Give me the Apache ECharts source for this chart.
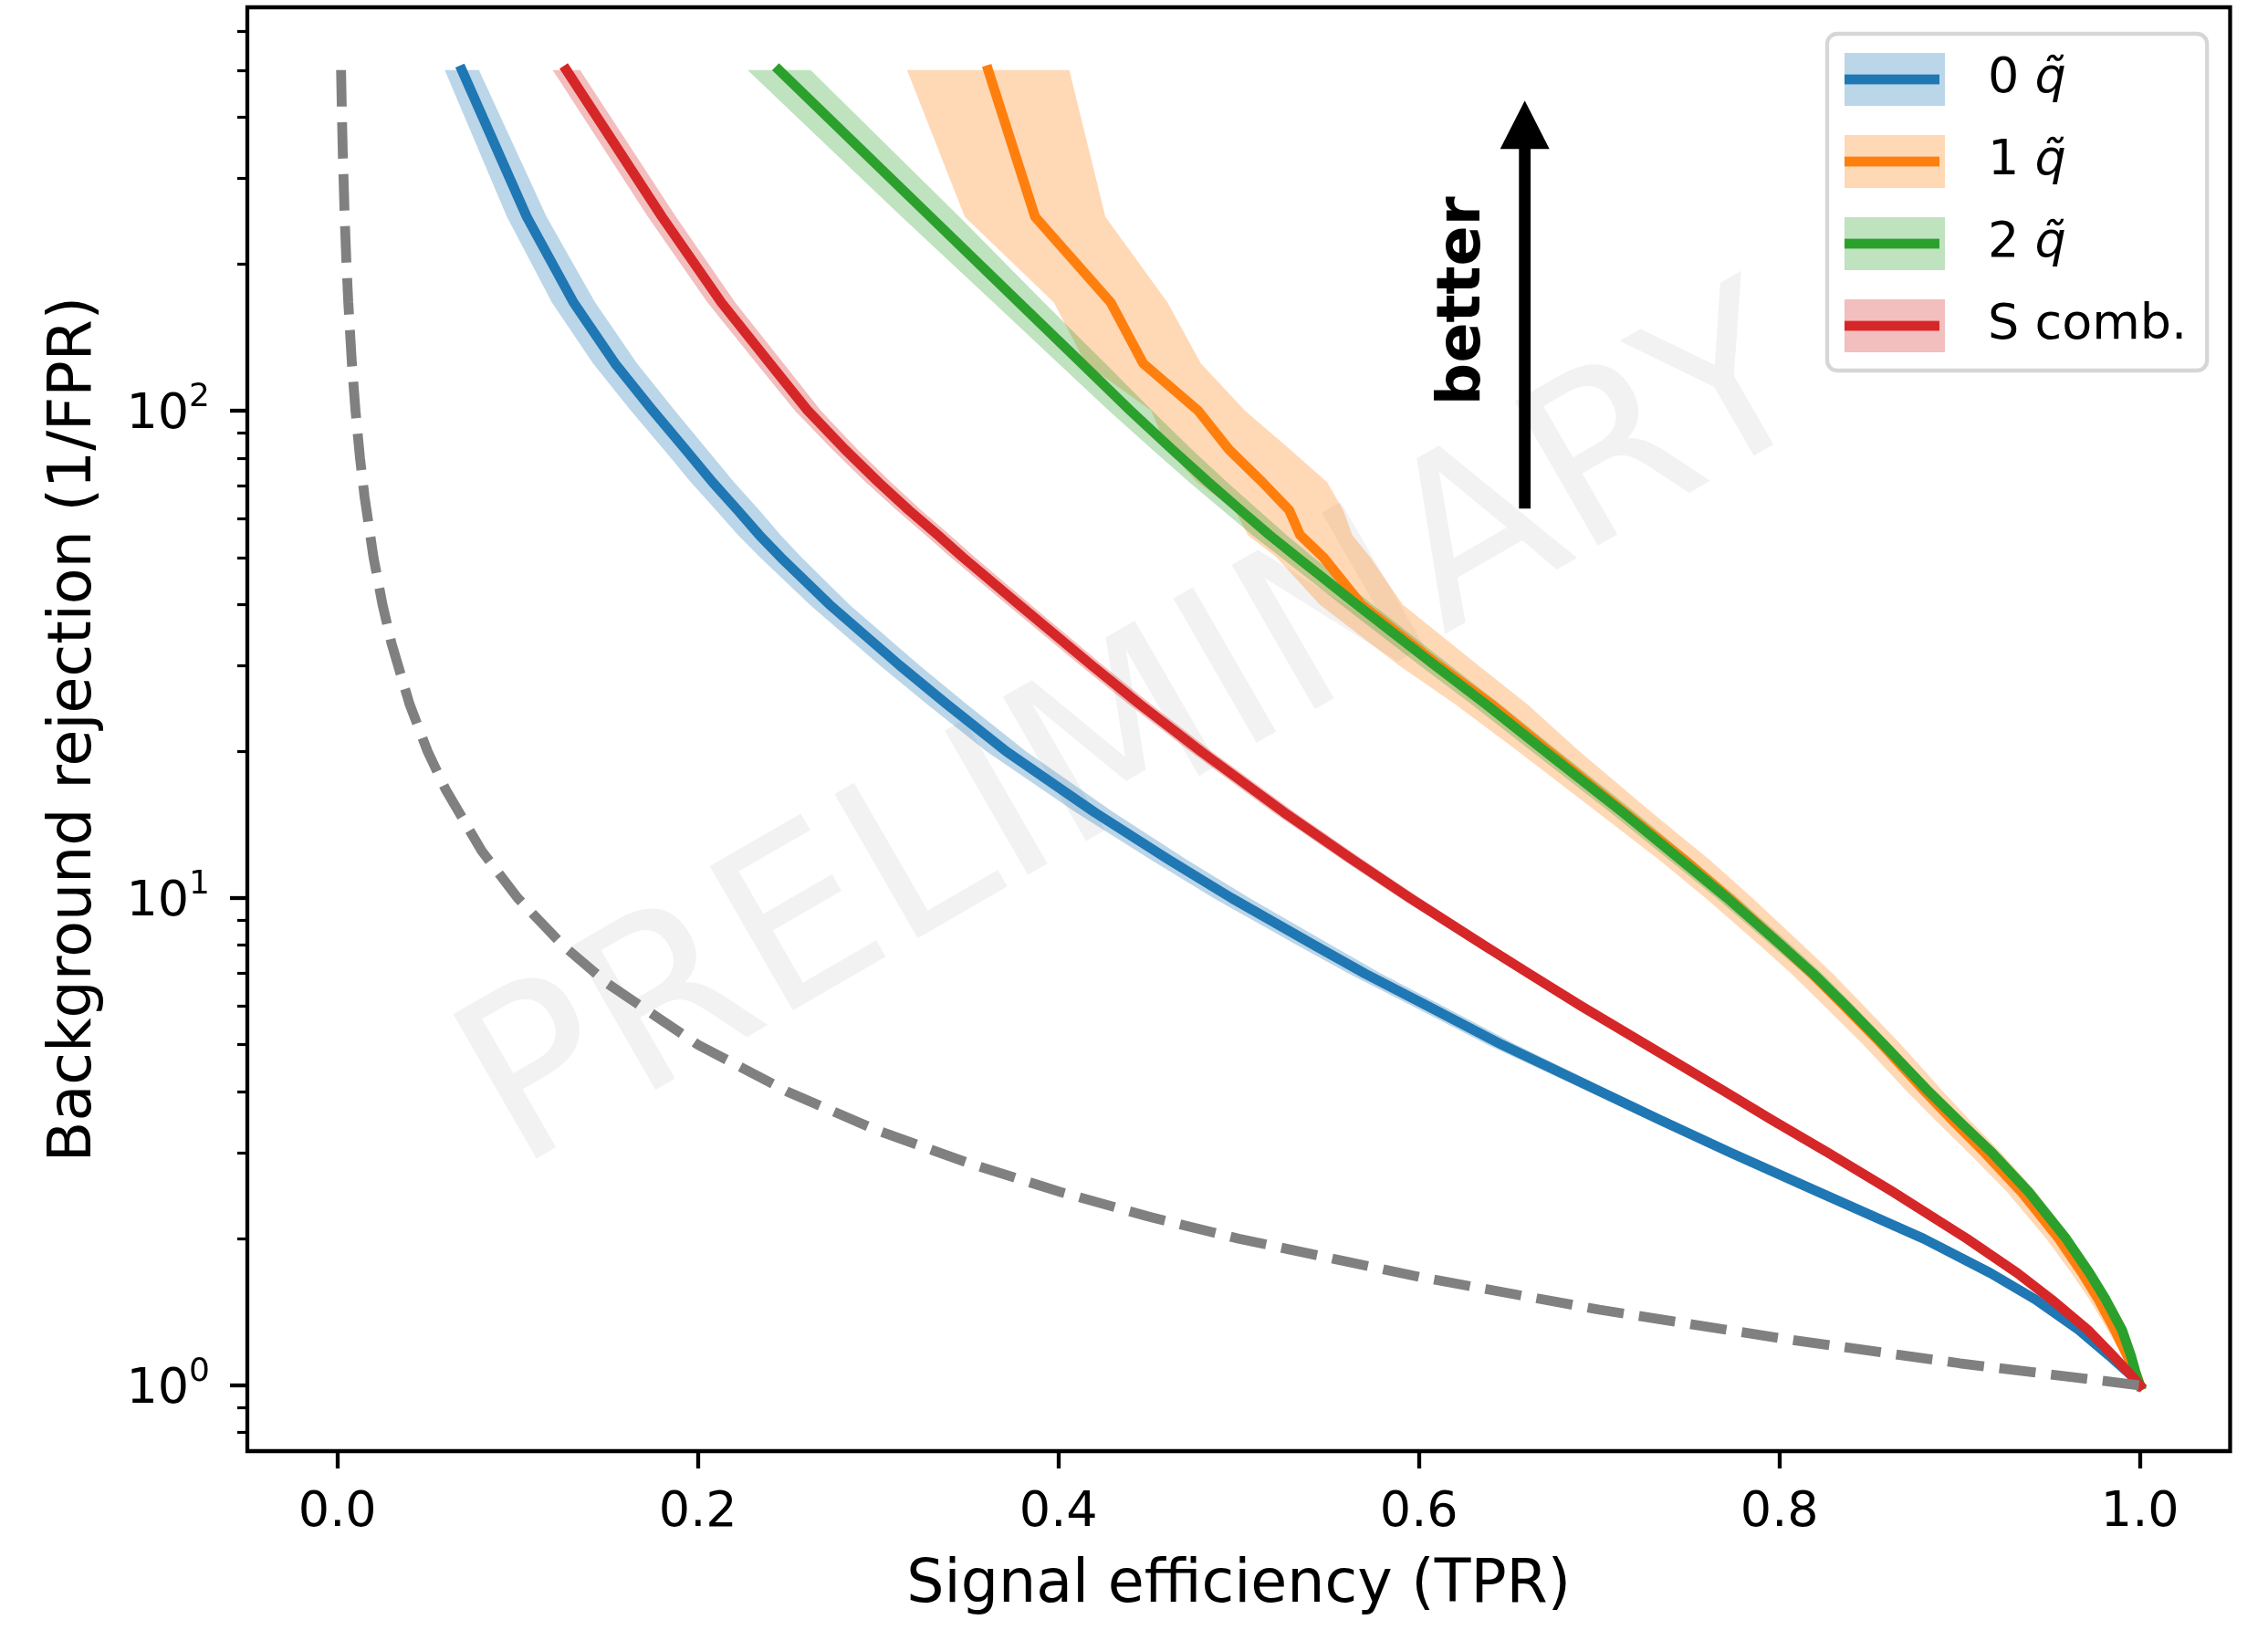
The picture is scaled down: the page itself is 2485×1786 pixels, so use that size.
<!DOCTYPE html>
<html><head><meta charset="utf-8">
<script src="https://cdn.jsdelivr.net/npm/echarts@6/dist/echarts.min.js"></script>
<style>html,body{margin:0;padding:0;background:#fff}#c{width:2485px;height:1786px}</style>
</head><body><div id="c"></div>
<script>
// ---- data ----
const rejection = [500, 250, 166.7, 125, 100, 83.3, 71.4, 62.5, 55.6, 50, 40, 30, 25, 20, 15, 12, 10, 8, 7, 6, 5, 4, 3.5, 3, 2.5, 2, 1.7, 1.5, 1.3, 1.15, 1.05, 1];
const tpr0q = [0.069,0.105,0.131,0.154,0.175,0.193,0.208,0.222,0.234,0.246,0.273,0.312,0.338,0.371,0.420,0.461,0.496,0.542,0.570,0.605,0.646,0.701,0.734,0.773,0.821,0.880,0.917,0.942,0.966,0.983,0.995,1.0];
const tpr1q = [0.361,0.387,0.429,0.447,0.4775,0.4945,0.513,0.528,0.534,0.547,0.568,0.611,0.640,0.672,0.714,0.747,0.772,0.801,0.818,0.836,0.857,0.881,0.896,0.914,0.934,0.955,0.968,0.977,0.986,0.993,0.998,1.0];
const tpr2q = [0.245,0.329,0.378,0.413,0.440,0.463,0.483,0.501,0.517,0.5325,0.5655,0.609,0.637,0.670,0.713,0.745,0.771,0.801,0.8186,0.837,0.858,0.883,0.899,0.918,0.938,0.959,0.972,0.981,0.990,0.995,0.998,1.0];
const tprS  = [0.127,0.180,0.213,0.240,0.261,0.2815,0.300,0.317,0.333,0.347,0.378,0.4185,0.445,0.479,0.525,0.563,0.595,0.636,0.661,0.690,0.726,0.770,0.796,0.827,0.8625,0.904,0.932,0.951,0.971,0.985,0.995,1.0];
// band half-widths (in TPR)
const err0q = [0.0095,0.011,0.012,0.0122,0.0122,0.012,0.012,0.012,0.0118,0.0115,0.011,0.011,0.011,0.011,0.0105,0.01,0.01,0.0095,0.009,0.0085,0.008,0.0065,0.006,0.005,0.004,0.003,0.0025,0.002,0.0015,0.001,0.0005,0];
const err1q = [0.045,0.039,0.0315,0.032,0.026,0.034,0.036,0.03,0.029,0.026,0.023,0.022,0.02,0.017,0.015,0.014,0.013,0.012,0.0115,0.011,0.0105,0.01,0.0095,0.009,0.008,0.007,0.006,0.005,0.004,0.003,0.0015,0];
const err2q = [0.0175,0.016,0.014,0.013,0.012,0.011,0.0105,0.01,0.0095,0.009,0.0088,0.0085,0.008,0.0075,0.007,0.0065,0.006,0.0055,0.005,0.0045,0.004,0.0035,0.003,0.0028,0.0025,0.002,0.0018,0.0015,0.0012,0.001,0.0005,0];
const errS  = [0.0076,0.0078,0.0077,0.0075,0.0072,0.007,0.007,0.0068,0.0068,0.0067,0.0065,0.0063,0.0062,0.006,0.006,0.0058,0.0055,0.005,0.0045,0.004,0.0035,0.003,0.0025,0.002,0.0018,0.0015,0.0012,0.001,0.0008,0.0005,0.0003,0];
// random-classifier reference (dashed)
const chanceTPR = [0.002,0.0025,0.003,0.004,0.005,0.006,0.008,0.01,0.0125,0.015,0.02,0.025,0.03,0.04,0.05,0.06,0.08,0.1,0.125,0.15,0.2,0.25,0.3,0.35,0.4,0.45,0.5,0.6,0.7,0.8,0.9,1.0];
const chanceRej = [500,400,333,250,200,167,125,100,80,66.7,50,40,33.3,25,20,16.7,12.5,10,8,6.67,5,4,3.33,2.86,2.5,2.22,2,1.67,1.43,1.25,1.11,1];
// legend / tick labels
const seriesNames = ['0 q̃', '1 q̃', '2 q̃', 'S comb.'];
const xTicks = [0, 0.2, 0.4, 0.6, 0.8, 1.0];
const yMajorTicks = [1, 10, 100];
const yMinorTicks = [0.8, 0.9, 2, 3, 4, 5, 6, 7, 8, 9, 20, 30, 40, 50, 60, 70, 80, 90, 200, 300, 400, 500, 600];
// annotation
const arrowX = 0.6587, arrowTail = 63, arrowTip = 433;
const betterX = 0.625, betterR = 168;

// ---- styling ----
const FONT = 'DejaVu Sans';
const colors = ['#1f77b4', '#ff7f0e', '#2ca02c', '#d62728'];
const bandColors = ['rgba(31,119,180,0.3)', 'rgba(255,127,14,0.3)', 'rgba(44,160,44,0.3)', 'rgba(214,39,40,0.3)'];
const tprs = [tpr0q, tpr1q, tpr2q, tprS];
const errs = [err0q, err1q, err2q, errS];

function legendIcon(band, line) {
  const svg = "<svg xmlns='http://www.w3.org/2000/svg' width='152' height='58'>" +
    "<rect x='0' y='0' width='110' height='58' fill='" + band + "'/>" +
    "<rect x='0' y='23.6' width='104' height='10.8' fill='" + line + "'/></svg>";
  return 'image://data:image/svg+xml;charset=utf-8,' + encodeURIComponent(svg);
}

function bandRender(color) {
  return function (params, api) {
    if (params.dataIndexInside !== 0) return null;
    const n = params.dataInsideLength;
    const up = [], down = [];
    for (let i = 0; i < n; i++) {
      up.push(api.coord([api.value(1, i), api.value(2, i)]));
      down.push(api.coord([api.value(0, i), api.value(2, i)]));
    }
    return { type: 'polygon', shape: { points: up.concat(down.reverse()) }, style: { fill: color } };
  };
}

const series = [];
for (let s = 0; s < 4; s++) {
  series.push({
    type: 'custom', name: 'band' + s, silent: true,
    renderItem: bandRender(bandColors[s]),
    encode: { x: [0, 1], y: 2 },
    data: rejection.map((r, i) => [tprs[s][i] - errs[s][i], tprs[s][i] + errs[s][i], r]),
    z: 2
  });
  series.push({
    type: 'line', name: seriesNames[s], showSymbol: false, symbol: 'none',
    data: rejection.map((r, i) => [tprs[s][i], r]),
    lineStyle: { color: colors[s], width: 10.8, cap: 'square', join: 'round' },
    itemStyle: { color: colors[s] },
    z: 2
  });
}
series.push({
  type: 'line', name: 'chance', showSymbol: false, symbol: 'none',
  data: chanceTPR.map((x, i) => [x, chanceRej[i]]),
  lineStyle: { color: '#808080', width: 10.8, type: [40, 17], cap: 'butt' },
  z: 2
});
series.push({
  type: 'custom', name: 'arrow', silent: true,
  data: [[arrowX, arrowTail, arrowTip]],
  renderItem: function (params, api) {
    const tail = api.coord([api.value(0), api.value(1)]);
    const tip = api.coord([api.value(0), api.value(2)]);
    const txt = api.coord([betterX, betterR]);
    const headLen = 53, headHalf = 27, shaftHalf = 6.4;
    return {
      type: 'group',
      children: [
        { type: 'rect', shape: { x: tip[0] - shaftHalf, y: tip[1] + headLen - 1, width: shaftHalf * 2, height: tail[1] - tip[1] - headLen + 1 }, style: { fill: '#000' } },
        { type: 'polygon', shape: { points: [[tip[0], tip[1]], [tip[0] - headHalf, tip[1] + headLen], [tip[0] + headHalf, tip[1] + headLen]] }, style: { fill: '#000' } },
        { type: 'text', x: txt[0], y: txt[1], rotation: Math.PI / 2,
          style: { text: 'better', font: 'bold 65px "DejaVu Sans"', fill: '#000', align: 'center', verticalAlign: 'middle' } }
      ]
    };
  },
  z: 3
});

const chart = echarts.init(document.getElementById('c'), null, { renderer: 'canvas', width: 2485, height: 1786 });
chart.setOption({
  animation: false,
  backgroundColor: '#ffffff',
  graphic: [{
    type: 'text', x: 1250, y: 812, rotation: Math.PI / 6, z: 0, silent: true,
    style: { text: 'PRELIMINARY', font: '250px "DejaVu Sans"', fill: '#f2f2f2', align: 'center', verticalAlign: 'middle' }
  }],
  grid: { left: 271, right: 41.5, top: 8, bottom: 196, show: true, borderColor: '#000', borderWidth: 4.3, backgroundColor: 'transparent', outerBoundsMode: 'none', containLabel: false },
  legend: {
    data: seriesNames.map((n, i) => ({ name: n, icon: legendIcon(bandColors[i], colors[i]) })),
    orient: 'vertical', left: 2002, top: 37,
    itemWidth: 152, itemHeight: 58, itemGap: 32,
    padding: [21, 22, 20, 19],
    backgroundColor: 'rgba(255,255,255,0.8)', borderColor: '#d6d6d6', borderWidth: 4.3, borderRadius: 11,
    selectedMode: false,
    formatter: function (name) {
      if (name.indexOf('q') < 0) return '{n|' + name + '}';
      return '{n|' + name.charAt(0) + ' }{q|q\u0303}';
    },
    textStyle: {
      fontFamily: FONT, fontSize: 54, color: '#000',
      rich: { n: { fontFamily: FONT, fontSize: 54, color: '#000' }, q: { fontFamily: FONT, fontSize: 54, fontStyle: 'italic', color: '#000' } }
    }
  },
  xAxis: {
    type: 'value', min: -0.05, max: 1.05,
    name: 'Signal efficiency (TPR)', nameLocation: 'middle', nameGap: 116,
    nameTextStyle: { fontFamily: FONT, fontSize: 65, color: '#000' },
    axisLine: { show: false, onZero: false },
    axisTick: { show: true, customValues: xTicks, length: 19, inside: false, lineStyle: { color: '#000', width: 4.3 } },
    axisLabel: { customValues: xTicks, formatter: v => v.toFixed(1), fontFamily: FONT, fontSize: 54, color: '#000', margin: 41 },
    splitLine: { show: false }
  },
  yAxis: [{
    type: 'log', min: 0.733, max: 672.6, position: 'left',
    name: 'Background rejection (1/FPR)', nameLocation: 'middle', nameGap: 156, nameRotate: 90,
    nameTextStyle: { fontFamily: FONT, fontSize: 65, color: '#000' },
    axisLine: { show: false, onZero: false },
    axisTick: { show: true, customValues: yMajorTicks, length: 19, lineStyle: { color: '#000', width: 4.3 } },
    axisLabel: {
      customValues: yMajorTicks, margin: 41,
      formatter: v => '{b|10}{s|' + Math.round(Math.log10(v)) + '}',
      rich: {
        b: { fontFamily: FONT, fontSize: 54, color: '#000', lineHeight: 64, verticalAlign: 'bottom' },
        s: { fontFamily: FONT, fontSize: 36, color: '#000', lineHeight: 36, verticalAlign: 'top' }
      }
    },
    splitLine: { show: false }
  }, {
    type: 'log', min: 0.733, max: 672.6, position: 'left', offset: 0,
    axisLine: { show: false, onZero: false },
    axisTick: { show: true, customValues: yMinorTicks, length: 11, lineStyle: { color: '#000', width: 3.2 } },
    axisLabel: { show: false },
    splitLine: { show: false }
  }],
  series: series
});
</script>
</body></html>
